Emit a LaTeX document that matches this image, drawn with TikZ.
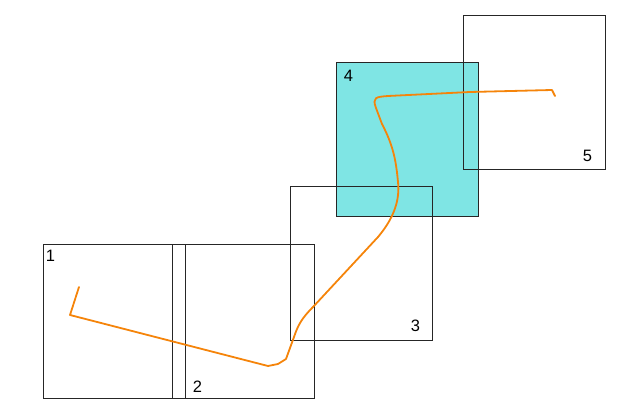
\documentclass[tikz,border=0pt]{standalone}
\usepackage{fontspec}
\setmainfont{Liberation Sans}
\definecolor{tilecyan}{RGB}{127, 229, 228}
\definecolor{trackorange}{RGB}{245, 132, 10}
\usetikzlibrary{positioning, calc}

\begin{document}
\begin{tikzpicture}[x=1pt, y=-1pt,
  tile/.style={draw=black!85, line width=0.9pt, minimum width=142pt, minimum height=154pt, inner sep=0pt},
  tilenum/.style={inner sep=0pt, font=\fontsize{16.5}{18}\selectfont},
  track/.style={draw=trackorange, line width=1.8pt, line join=round, line cap=round}]
  \useasboundingbox (0,0) rectangle (630,414);
  \node[tile, fill=tilecyan] (tile4) at (407,139) {};
  \node[tile] (tile1) at (114,321) {};
  \node[tile] (tile2) at (243,321) {};
  \node[tile] (tile3) at (361,263) {};
  \node[tile] (tile5) at (534,92) {};
  \node[tilenum] (num1) at ($(tile1.north west)+(8,12.5)$) {1};
  \node[tilenum] (num2) at ($(tile2.south west)+(26,-12)$) {2};
  \node[tilenum] (num3) at ($(tile3.south east)+(-17,-15)$) {3};
  \node[tilenum] (num4) at ($(tile4.north west)+(13,14.5)$) {4};
  \node[tilenum] (num5) at ($(tile5.south east)+(-18,-14)$) {5};
  \draw[track] (79,287) -- (70,315) -- (268,366) -- (278,364) -- (286,359) -- (294,337)
    .. controls (298,325) and (302,318) .. (313,307) -- (378,237)
    .. controls (394,218) and (400,200) .. (398,182)
    .. controls (396,160) and (393,145) .. (382,124) -- (376,108)
    .. controls (372,97) and (376,97) .. (388,96) -- (470,92) -- (552,90) -- (555,96);
\end{tikzpicture}
\end{document}
